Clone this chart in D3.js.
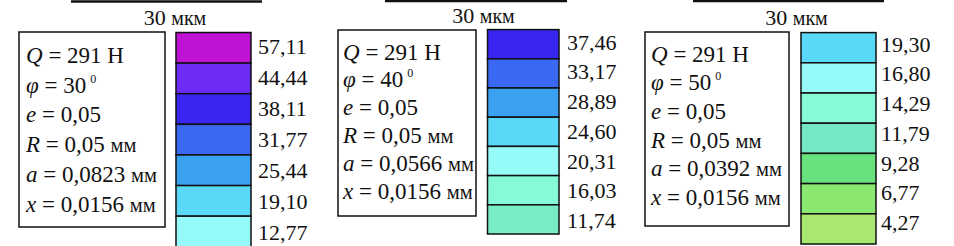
<!DOCTYPE html>
<html>
<head>
<meta charset="utf-8">
<script src="https://cdn.jsdelivr.net/npm/d3@7"></script>
<style>
  body { margin: 0; background: #fff; }
  svg { display: block; }
</style>
</head>
<body>
<div id="chart"></div>
<script>
// chart values
const loadQ = "291";
const angles = ["30", "40", "50"];
const eccentricity = "0,05";
const radiusR = "0,05";
const aValues = ["0,0823", "0,0566", "0,0392"];
const xValue = "0,0156";
const scaleText = "30 мкм";

const labels30 = ["57,11", "44,44", "38,11", "31,77", "25,44", "19,10", "12,77"];
const labels40 = ["37,46", "33,17", "28,89", "24,60", "20,31", "16,03", "11,74"];
const labels50 = ["19,30", "16,80", "14,29", "11,79", "9,28", "6,77", "4,27"];

const colors30 = ["#c012d4", "#6c2cf4", "#3826f0", "#3a68f2", "#3aa0f0", "#5ad8f8", "#96faf8"];
const colors40 = ["#3826f0", "#3a68f2", "#3aa0f0", "#5ad8f8", "#96faf8", "#86fad8", "#78ecc4"];
const colors50 = ["#5ad8f8", "#96faf8", "#86fad8", "#74e8c4", "#68e27e", "#8ae870", "#a8e870"];

const W = 954, H = 246;
const serif = "'Liberation Serif', 'Times New Roman', Times, serif";

const svg = d3.select("#chart")
    .append("svg")
    .attr("width", W)
    .attr("height", H)
    .attr("font-family", serif)
    .attr("fill", "#111");

// where each panel sits on the page
const layouts = [
    { bar: [71, 262], barY: 1.5, titleX: 175, titleY: 25,
      box: [19, 32, 165, 227], textX: 26, textY: [62.7, 211.7],
      sw: [176, 251], swY: [32.5, 246.8], labX: 258, labY: [53.5, 240] },
    { bar: [385, 567], barY: 1, titleX: 483.5, titleY: 23,
      box: [338, 30, 476, 216], textX: 343, textY: [59.5, 198.5],
      sw: [487.5, 559], swY: [29.6, 234], labX: 567, labY: [49.5, 228] },
    { bar: [693, 884], barY: 1, titleX: 796.5, titleY: 24.5,
      box: [645, 32, 789, 226], textX: 651, textY: [61.5, 205],
      sw: [801, 876], swY: [32.6, 244], labX: 881, labY: [51.5, 230] }
];

const panelLabels = [labels30, labels40, labels50];
const panelColors = [colors30, colors40, colors50];

function drawPanel(i) {
    const L = layouts[i];
    const labels = panelLabels[i];
    const g = svg.append("g");

    // scale bar + caption
    g.append("line")
        .attr("x1", L.bar[0]).attr("x2", L.bar[1])
        .attr("y1", L.barY).attr("y2", L.barY)
        .attr("stroke", "#111").attr("stroke-width", 2.5);
    const cap = g.append("text")
        .attr("x", L.titleX).attr("y", L.titleY)
        .attr("text-anchor", "middle")
        .attr("font-size", 22);
    cap.append("tspan").text(scaleText.split(" ")[0] + " ");
    cap.append("tspan").attr("font-size", 20).text(scaleText.split(" ")[1]);

    // parameters box
    g.append("rect")
        .attr("x", L.box[0]).attr("y", L.box[1])
        .attr("width", L.box[2] - L.box[0]).attr("height", L.box[3] - L.box[1])
        .attr("fill", "none").attr("stroke", "#111").attr("stroke-width", 1.5);

    const lines = [
        [["Q", true], [" = " + loadQ + " Н", false]],
        [["φ", true], [" = " + angles[i], false], ["sup", "0"]],
        [["e", true], [" = " + eccentricity, false]],
        [["R", true], [" = " + radiusR + " ", false], ["unit", "мм"]],
        [["a", true], [" = " + aValues[i] + " ", false], ["unit", "мм"]],
        [["x", true], [" = " + xValue + " ", false], ["unit", "мм"]]
    ];
    const lineY = d3.scalePoint()
        .domain(d3.range(lines.length))
        .range(L.textY);

    lines.forEach((parts, k) => {
        const t = g.append("text")
            .attr("x", L.textX).attr("y", lineY(k))
            .attr("font-size", 23);
        parts.forEach(p => {
            if (p[0] === "sup") {
                t.append("tspan").attr("dx", 4).attr("dy", -10)
                    .attr("font-size", 12).text(p[1]);
            } else if (p[0] === "unit") {
                t.append("tspan").attr("font-size", 20.5).text(p[1]);
            } else {
                t.append("tspan")
                    .attr("font-style", p[1] ? "italic" : "normal")
                    .text(p[0]);
            }
        });
    });

    // colour legend
    const y = d3.scaleBand()
        .domain(labels)
        .range(L.swY)
        .padding(0);
    const color = d3.scaleOrdinal()
        .domain(labels)
        .range(panelColors[i]);

    g.selectAll("rect.sw")
        .data(labels)
        .enter()
        .append("rect")
        .attr("class", "sw")
        .attr("x", L.sw[0])
        .attr("y", d => y(d))
        .attr("width", L.sw[1] - L.sw[0])
        .attr("height", y.bandwidth())
        .attr("fill", d => color(d))
        .attr("stroke", "#111")
        .attr("stroke-width", 1.5);

    const ly = d3.scalePoint()
        .domain(labels)
        .range(L.labY);
    g.selectAll("text.lab")
        .data(labels)
        .enter()
        .append("text")
        .attr("class", "lab")
        .attr("x", L.labX)
        .attr("y", d => ly(d))
        .attr("font-size", 22)
        .text(d => d);
}

[0, 1, 2].forEach(drawPanel);
</script>
</body>
</html>
